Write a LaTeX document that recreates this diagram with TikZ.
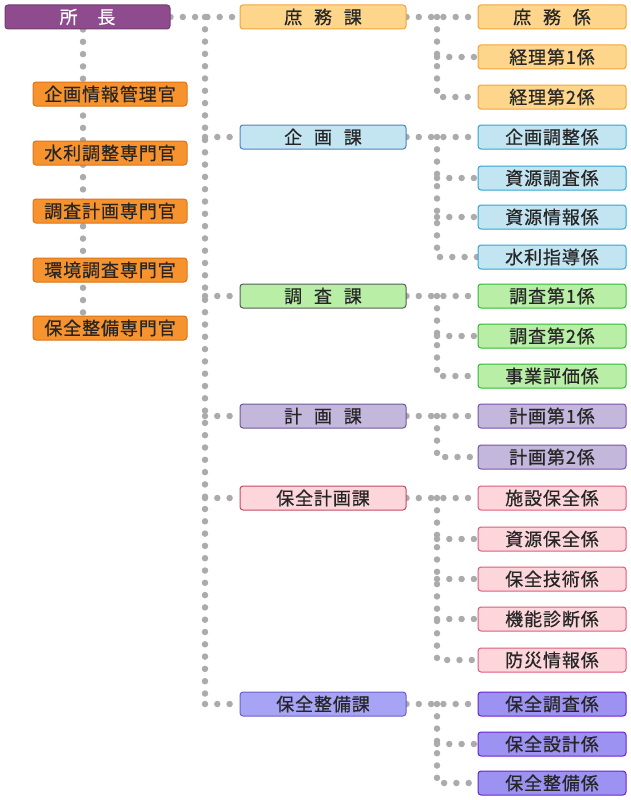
\documentclass[tikz,border=0pt]{standalone}
\usepackage{fontspec}
\usetikzlibrary{backgrounds}
\newfontfamily\jpfont[LetterSpace=5,WordSpace=2.4,FakeBold=0.6]{Noto Sans CJK JP}

\definecolor{chieffill}{HTML}{8E4B8E}
\definecolor{offfill}{HTML}{F7932F}
\definecolor{offdraw}{HTML}{D9741A}
\definecolor{shofill}{HTML}{FDD68C}
\definecolor{shodraw}{HTML}{F2A43A}
\definecolor{kikfill}{HTML}{C3E4F1}
\definecolor{kikdraw}{HTML}{4C82C4}
\definecolor{kiksub}{HTML}{2EA6D6}
\definecolor{chofill}{HTML}{B8EEA6}
\definecolor{chodraw}{HTML}{5A5A5A}
\definecolor{chosub}{HTML}{36B536}
\definecolor{keifill}{HTML}{C4B7DC}
\definecolor{keidraw}{HTML}{6E5A96}
\definecolor{keisub}{HTML}{7B4FB0}
\definecolor{hokfill}{HTML}{FCD6DA}
\definecolor{hokdraw}{HTML}{C44A62}
\definecolor{hoksub}{HTML}{DE5C7C}
\definecolor{hosfill}{HTML}{A7A3F5}
\definecolor{hosdraw}{HTML}{6B5FD0}
\definecolor{hossubfill}{HTML}{9C92F2}
\definecolor{hossub}{HTML}{6A22D0}
\definecolor{dotgray}{HTML}{ABABAB}

\begin{document}
\begin{tikzpicture}[x=1pt, y=-1pt,
    box/.style={rectangle, rounded corners=3pt, line width=1pt, minimum height=24pt,
      inner sep=0pt, font=\jpfont\fontsize{18}{18}\selectfont, text=black!85},
    chiefbox/.style={box, fill=chieffill, draw=chieffill!80!black, text=white, minimum width=165pt},
    offbox/.style={box, fill=offfill, draw=offdraw, minimum width=154pt},
    secbox/.style={box, minimum width=166pt},
    subbox/.style={box, minimum width=148pt},
    dotline/.style={draw=dotgray, line width=6.5pt, line cap=round, dash pattern=on 0pt off 12.3pt},
]
\useasboundingbox (0,0) rectangle (631,800);

% top
\node[chiefbox] (chief) at (87.5,17) {所　長};

% staff officers
\node[offbox] (k1) at (110,94)  {企画情報管理官};
\node[offbox] (k2) at (110,153) {水利調整専門官};
\node[offbox] (k3) at (110,211) {調査計画専門官};
\node[offbox] (k4) at (110,270) {環境調査専門官};
\node[offbox] (k5) at (110,328) {保全整備専門官};

% sections
\node[secbox, fill=shofill, draw=shodraw] (sho) at (323,17)  {庶 務 課};
\node[secbox, fill=kikfill, draw=kikdraw] (kik) at (323,137) {企 画 課};
\node[secbox, fill=chofill, draw=chodraw] (cho) at (323,296) {調 査 課};
\node[secbox, fill=keifill, draw=keidraw] (kei) at (323,416) {計 画 課};
\node[secbox, fill=hokfill, draw=hokdraw] (hok) at (323,498) {保全計画課};
\node[secbox, fill=hosfill, draw=hosdraw] (hos) at (323,704) {保全整備課};

% units
\node[subbox, fill=shofill, draw=shodraw] (sho1) at (552,17) {庶 務 係};
\node[subbox, fill=shofill, draw=shodraw] (sho2) at (552,57) {経理第1係};
\node[subbox, fill=shofill, draw=shodraw] (sho3) at (552,97) {経理第2係};

\node[subbox, fill=kikfill, draw=kiksub] (kik1) at (552,137) {企画調整係};
\node[subbox, fill=kikfill, draw=kiksub] (kik2) at (552,178) {資源調査係};
\node[subbox, fill=kikfill, draw=kiksub] (kik3) at (552,217) {資源情報係};
\node[subbox, fill=kikfill, draw=kiksub] (kik4) at (552,257) {水利指導係};

\node[subbox, fill=chofill, draw=chosub] (cho1) at (552,296) {調査第1係};
\node[subbox, fill=chofill, draw=chosub] (cho2) at (552,336) {調査第2係};
\node[subbox, fill=chofill, draw=chosub] (cho3) at (552,376) {事業評価係};

\node[subbox, fill=keifill, draw=keisub] (kei1) at (552,416) {計画第1係};
\node[subbox, fill=keifill, draw=keisub] (kei2) at (552,457) {計画第2係};

\node[subbox, fill=hokfill, draw=hoksub] (hok1) at (552,498) {施設保全係};
\node[subbox, fill=hokfill, draw=hoksub] (hok2) at (552,539) {資源保全係};
\node[subbox, fill=hokfill, draw=hoksub] (hok3) at (552,579) {保全技術係};
\node[subbox, fill=hokfill, draw=hoksub] (hok4) at (552,619) {機能診断係};
\node[subbox, fill=hokfill, draw=hoksub] (hok5) at (552,660) {防災情報係};

\node[subbox, fill=hossubfill, draw=hossub] (hos1) at (552,704) {保全調査係};
\node[subbox, fill=hossubfill, draw=hossub] (hos2) at (552,744) {保全設計係};
\node[subbox, fill=hossubfill, draw=hossub] (hos3) at (552,783) {保全整備係};

\coordinate (lv) at (83,0);
\coordinate (tv) at (205,0);
\coordinate (sv) at (437,0);

\begin{scope}[on background layer]
% staff line
\draw[dotline] (chief.south -| lv) -- (k5.north -| lv);
% main trunk
\draw[dotline] (chief.east) -- (sho.west);
\draw[dotline] (sho.west -| tv) -- (hos.west -| tv);
\draw[dotline] (kik.west -| tv) -- (kik.west);
\draw[dotline] (cho.west -| tv) -- (cho.west);
\draw[dotline] (kei.west -| tv) -- (kei.west);
\draw[dotline] (hok.west -| tv) -- (hok.west);
\draw[dotline] (hos.west -| tv) -- (hos.west);
% unit lines
\draw[dotline] (sho.east) -- (sho1.west);
\draw[dotline] (sho.east -| sv) -- (sho3.west -| sv) -- (sho3.west);
\draw[dotline] (sho2.west -| sv) -- (sho2.west);
\draw[dotline] (kik.east) -- (kik1.west);
\draw[dotline] (kik.east -| sv) -- (kik4.west -| sv) -- (kik4.west);
\draw[dotline] (kik2.west -| sv) -- (kik2.west);
\draw[dotline] (kik3.west -| sv) -- (kik3.west);
\draw[dotline] (cho.east) -- (cho1.west);
\draw[dotline] (cho.east -| sv) -- (cho3.west -| sv) -- (cho3.west);
\draw[dotline] (cho2.west -| sv) -- (cho2.west);
\draw[dotline] (kei.east) -- (kei1.west);
\draw[dotline] (kei.east -| sv) -- (kei2.west -| sv) -- (kei2.west);
\draw[dotline] (hok.east) -- (hok1.west);
\draw[dotline] (hok.east -| sv) -- (hok5.west -| sv) -- (hok5.west);
\draw[dotline] (hok2.west -| sv) -- (hok2.west);
\draw[dotline] (hok3.west -| sv) -- (hok3.west);
\draw[dotline] (hok4.west -| sv) -- (hok4.west);
\draw[dotline] (hos.east) -- (hos1.west);
\draw[dotline] (hos.east -| sv) -- (hos3.west -| sv) -- (hos3.west);
\draw[dotline] (hos2.west -| sv) -- (hos2.west);
\end{scope}
\end{tikzpicture}
\end{document}
